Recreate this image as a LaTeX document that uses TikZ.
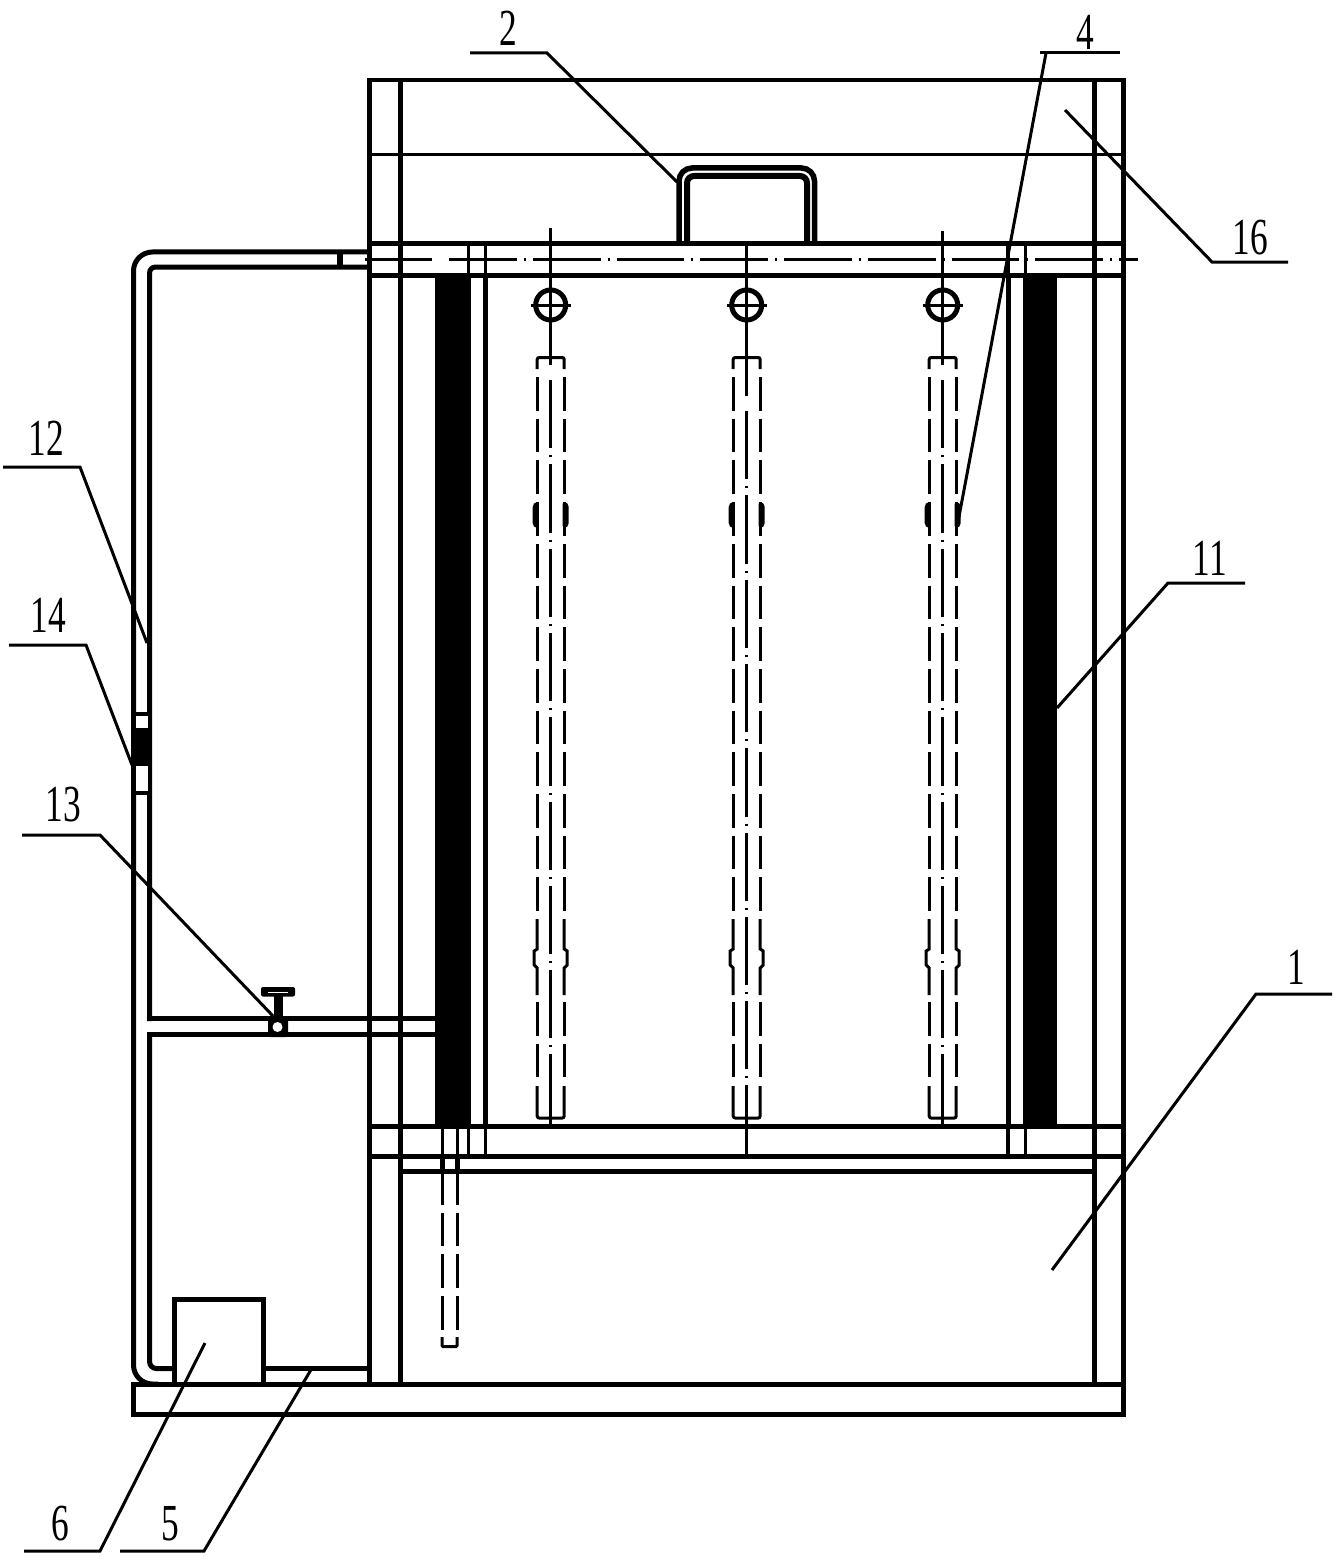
\documentclass[tikz,border=0pt]{standalone}
\usepackage{fontspec}
\newfontfamily\lab[FakeStretch=0.68]{Liberation Serif}
\tikzset{
  heavy/.style={line width=5pt},
  medium/.style={line width=4pt},
  thin line/.style={line width=3pt},
  leader/.style={line width=3pt},
  solidblack/.style={fill=black,draw=none},
  num/.style={inner sep=0pt,font=\lab\fontsize{52}{52}\selectfont},
  tubedash/.style={line width=3pt,dash pattern=on 33.7pt off 8pt},
  axisdash/.style={line width=3pt,dash pattern=on 68.3pt off 7pt on 2pt off 7pt}
}
\begin{document}
\begin{tikzpicture}[x=1pt,y=-1pt]
\useasboundingbox (0,0) rectangle (1337,1562);
% black packing strips
\fill[solidblack] (435,275) rectangle (471,1126);
\fill[solidblack] (1023,275) rectangle (1057,1126);
% frame verticals
\draw[heavy] (369.5,80) -- (369.5,1384);
\draw[heavy] (400,80) -- (400,1384);
\draw[heavy] (1094,80) -- (1094,1384);
\draw[heavy] (1123.5,80) -- (1123.5,1414);
% frame horizontals
\draw[medium] (367,80.5) -- (1126,80.5);
\draw[thin line] (369,155) -- (1124,155);
\draw[heavy] (367,244) -- (1126,244);
\draw[heavy] (367,275) -- (1126,275);
\draw[heavy] (369,1126) -- (1124,1126);
\draw[heavy] (369,1156) -- (1124,1156);
\draw[heavy] (400,1171) -- (1094,1171);
% bar axis
\draw[thin line] (365,259.5) -- (432,259.5);
\draw[thin line,dash pattern=on 67.75pt off 7pt on 2pt off 7pt] (449,259.5) -- (1119,259.5);
\draw[thin line] (1119,259.5) -- (1138,259.5);
% inner posts
\draw[heavy] (485,275) -- (485,1126);
\draw[thin line] (485,244) -- (485,275) (485,1126) -- (485,1156);
\draw[thin line] (468,244) -- (468,275) (468,1126) -- (468,1156);
\draw[heavy] (1008,275) -- (1008,1126);
\draw[medium] (1008,244) -- (1008,275) (1008,1126) -- (1008,1156);
\draw[thin line] (1025.5,244) -- (1025.5,275) (1025.5,1126) -- (1025.5,1156);
% base
\draw[heavy] (133.5,1384) rectangle (1123.5,1414.5);
% handle
\draw[line width=5.5pt,rounded corners=13pt] (679,244) -- (679,168) -- (814.5,168) -- (814.5,244);
\draw[line width=6pt,rounded corners=7pt] (687,244) -- (687,176) -- (807,176) -- (807,244);
% piping
\draw[heavy,rounded corners=19pt] (369,252) -- (133.5,252) -- (133.5,1384) -- (158,1384);
\draw[heavy,rounded corners=6pt] (369,267) -- (149.5,267) -- (149.5,1021);
\draw[heavy] (149.5,1018.7) -- (435,1018.7);
\draw[heavy] (435,1034.7) -- (147,1034.7);
\draw[heavy,rounded corners=7pt] (149.5,1032.2) -- (149.5,1368.5) -- (174,1368.5);
\draw[line width=6pt] (340,252) -- (340,267);
% pump and tank bottom
\draw[heavy] (174.5,1384) -- (174.5,1299.5) -- (263.5,1299.5) -- (263.5,1384);
\draw[heavy] (263.5,1368.5) -- (369,1368.5);
% flow meter
\fill[white] (132,712) rectangle (152,795);
\draw[medium] (134,714) rectangle (150,793);
\fill[solidblack] (132,728) rectangle (152,766);
% valve
\fill[solidblack,rounded corners=2pt] (261,987) rectangle (295,996.5);
\draw[white,line width=1pt] (268,992) -- (288,992);
\fill[solidblack] (274,996) rectangle (283,1020);
\fill[solidblack,rounded corners=2pt] (268,1016) rectangle (288,1037);
\fill[white] (277.5,1027) circle (5);
% suspended plates
\foreach \c/\s/\t in {550.7/380/228,746.7/411/244,942.7/380/231}{
  \draw[thin line] (\c,\t) -- (\c,\s-15);
  \draw[axisdash] (\c,\s) -- (\c,\s+674);
  \draw[thin line] (\c,\s+674) -- (\c,1126);
  \draw[heavy] (\c,305) circle (15);
  \draw[thin line] (\c-20,305) -- (\c+20,305);
  % tube top and bottom caps
  \draw[thin line,rounded corners=2pt] (\c-13.5,369) -- (\c-13.5,357.5) -- (\c+13.5,357.5) -- (\c+13.5,369);
  \draw[thin line,rounded corners=2pt] (\c-13.5,1086) -- (\c-13.5,1118) -- (\c+13.5,1118) -- (\c+13.5,1086);
  \foreach \e in {-13.5,13.5}{
    \draw[tubedash] (\c+\e,377) -- (\c+\e,919);
    \draw[tubedash] (\c+\e,1002) -- (\c+\e,1080);
  }
  % upper clamp
  \fill[solidblack,rounded corners=2pt] (\c-18,505) -- (\c-15.5,502) -- (\c-12,502) -- (\c-12,528) -- (\c-15.5,528) -- (\c-18,525) -- cycle;
  \fill[solidblack,rounded corners=2pt] (\c+18,505) -- (\c+15.5,502) -- (\c+12,502) -- (\c+12,528) -- (\c+15.5,528) -- (\c+18,525) -- cycle;
  % lower clamp
  \draw[thin line] (\c-13.5,919) -- (\c-13.5,949) -- (\c-16.5,951) -- (\c-16.5,965) -- (\c-13.5,968) -- (\c-13.5,995);
  \draw[thin line] (\c+13.5,919) -- (\c+13.5,949) -- (\c+16.5,951) -- (\c+16.5,965) -- (\c+13.5,968) -- (\c+13.5,995);
}
\draw[thin line] (746.7,1126) -- (746.7,1156);
% drain tube
\draw[thin line] (442,1126) -- (442,1156) (457,1126) -- (457,1156);
\draw[heavy] (442,1156) -- (442,1171) (457.5,1156) -- (457.5,1171);
\draw[tubedash] (442,1171) -- (442,1332);
\draw[tubedash] (457,1171) -- (457,1332);
\draw[thin line,rounded corners=1pt] (442,1337) -- (442,1346.5) -- (457,1346.5) -- (457,1337);
% labels
\node[num] (n2) at (508,28) {2};
\node[num] (n4) at (1085,32) {4};
\node[num] (n16) at (1250,238) {16};
\node[num] (n11) at (1210,558) {11};
\node[num] (n12) at (46,438) {12};
\node[num] (n14) at (48,615) {14};
\node[num] (n13) at (63,805) {13};
\node[num] (n1) at (1296,967) {1};
\node[num] (n6) at (60,1524) {6};
\node[num] (n5) at (170,1524) {5};
% leaders
\coordinate (a2) at (470,53); \coordinate (b2) at (547,53); \coordinate (c2) at (677,182);
\coordinate (a4) at (1120,53); \coordinate (b4) at (1040,53); \coordinate (k4) at (1046,53); \coordinate (c4) at (958,522);
\coordinate (a16) at (1288,262); \coordinate (b16) at (1212,262); \coordinate (c16) at (1065,110);
\coordinate (a11) at (1245,583); \coordinate (b11) at (1168,583); \coordinate (c11) at (1057,708);
\coordinate (a12) at (3,467); \coordinate (b12) at (80,467); \coordinate (c12) at (147,643);
\coordinate (a14) at (9,645); \coordinate (b14) at (86,645); \coordinate (c14) at (132,765);
\coordinate (a13) at (22,835); \coordinate (b13) at (100,835); \coordinate (c13) at (273,1016);
\coordinate (a1) at (1332,994); \coordinate (b1) at (1256,994); \coordinate (c1) at (1052,1270);
\coordinate (a6) at (24,1551); \coordinate (b6) at (100,1551); \coordinate (c6) at (205,1343);
\coordinate (a5) at (120,1551); \coordinate (b5) at (204,1551); \coordinate (c5) at (312,1368);
\draw[leader] (a2) -- (b2) -- (c2);
\draw[leader] (a4) -- (b4);
\draw[leader] (k4) -- (c4);
\draw[leader] (a16) -- (b16) -- (c16);
\draw[leader] (a11) -- (b11) -- (c11);
\draw[leader] (a12) -- (b12) -- (c12);
\draw[leader] (a14) -- (b14) -- (c14);
\draw[leader] (a13) -- (b13) -- (c13);
\draw[leader] (a1) -- (b1) -- (c1);
\draw[leader] (a6) -- (b6) -- (c6);
\draw[leader] (a5) -- (b5) -- (c5);
\end{tikzpicture}
\end{document}
